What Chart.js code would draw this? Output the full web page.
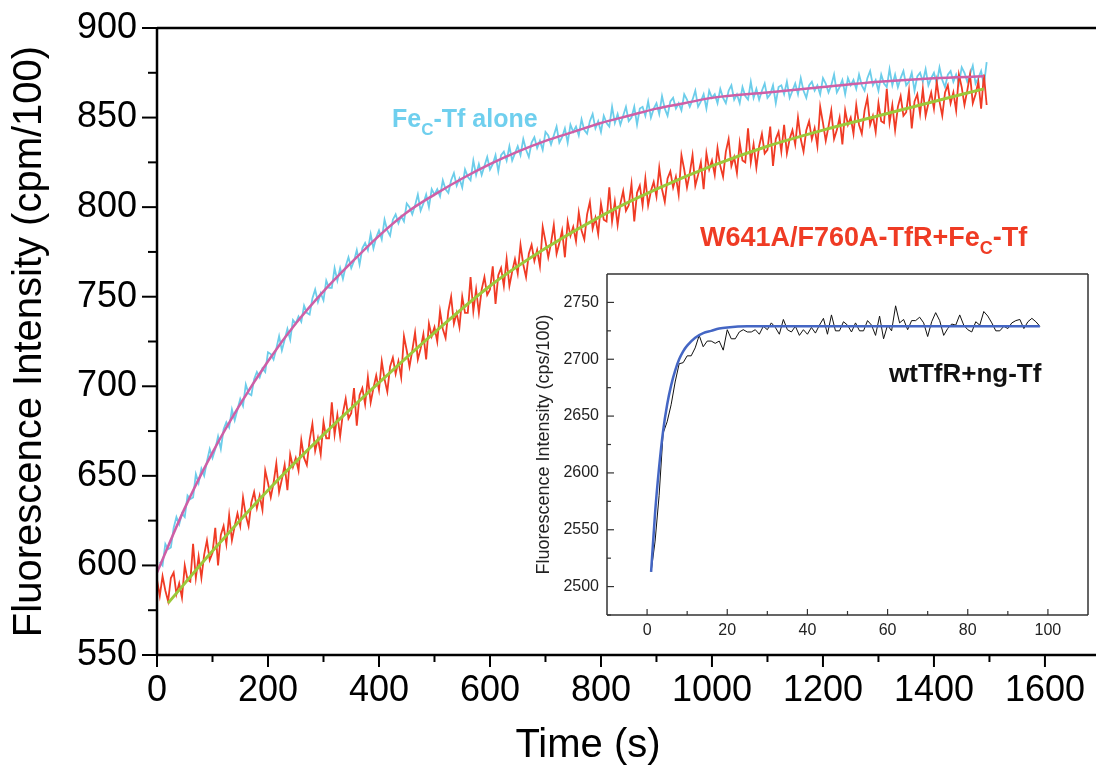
<!DOCTYPE html>
<html>
<head>
<meta charset="utf-8">
<script src="https://cdn.jsdelivr.net/npm/chart.js@4.4.0/dist/chart.umd.min.js"></script>
<style>
  body { margin: 0; background: #fff; }
  #wrap { position: relative; width: 1096px; height: 767px; }
  #grafico { position: absolute; left: 0; top: 0; }
  #inset { position: absolute; left: 520px; top: 265px; }
</style>
</head>
<body>
<div id="wrap">
  <canvas id="grafico" width="1096" height="767"></canvas>
  <canvas id="inset" width="576" height="380"></canvas>
</div>
<script>
// ---- DADOS ----

// FeC-Tf alone: uma leitura a cada 5 s, de t = 5 s a 1495 s
const tempoPasso = 5;
const feTfInicio = 5;
const feTfAlone = [
  602, 600, 612, 609, 610, 621, 627, 623, 629, 627,
  639, 637, 638, 651, 646, 654, 650, 658, 665, 660,
  665, 672, 665, 676, 680, 677, 687, 681, 687, 693,
  689, 701, 696, 695, 704, 708, 705, 710, 708, 719,
  718, 715, 721, 728, 720, 726, 732, 726, 737, 735,
  739, 736, 745, 741, 740, 749, 754, 747, 752, 748,
  759, 755, 755, 766, 759, 766, 760, 767, 772, 766,
  770, 776, 768, 777, 780, 776, 785, 777, 783, 787,
  782, 793, 787, 784, 793, 796, 791, 795, 792, 802,
  800, 796, 801, 807, 798, 802, 807, 800, 810, 807,
  810, 806, 815, 810, 808, 815, 819, 812, 816, 811,
  821, 817, 815, 826, 818, 824, 818, 823, 828, 821,
  824, 829, 820, 829, 831, 826, 834, 826, 830, 834,
  829, 838, 832, 828, 836, 839, 833, 837, 832, 842,
  840, 835, 840, 845, 836, 839, 844, 836, 846, 842,
  845, 840, 849, 843, 841, 848, 852, 844, 848, 842,
  851, 847, 845, 856, 847, 852, 846, 851, 856, 848,
  850, 856, 846, 855, 856, 851, 859, 850, 855, 858,
  852, 862, 855, 851, 859, 861, 855, 858, 854, 863,
  860, 856, 860, 865, 856, 859, 863, 855, 865, 861,
  863, 858, 866, 861, 858, 865, 868, 860, 863, 858,
  867, 862, 860, 870, 861, 866, 860, 865, 869, 861,
  863, 868, 858, 867, 868, 863, 870, 861, 865, 869,
  863, 872, 865, 861, 868, 870, 865, 868, 863, 872,
  869, 864, 868, 874, 864, 867, 871, 863, 872, 868,
  871, 866, 874, 868, 865, 872, 876, 868, 871, 865,
  874, 869, 867, 877, 868, 874, 867, 872, 876, 868,
  870, 875, 865, 873, 875, 870, 877, 868, 872, 875,
  869, 878, 871, 867, 874, 876, 870, 874, 869, 878,
  875, 870, 874, 879, 869, 872, 876, 868, 881
];
// curva ajustada (rosa)
const feTfAjusteTempo = [0, 50, 100, 150, 200, 250, 300, 350, 400, 450, 500, 550, 600, 650, 700, 750, 800, 850, 900, 950, 1000, 1100, 1200, 1300, 1400, 1490];
const feTfAjuste = [596, 632, 663, 690, 714, 735, 753, 769, 784, 797, 807, 816, 824, 831, 837, 842, 847, 851, 855, 858, 861, 864, 867, 870, 872, 873];

// W641A/F760A-TfR+FeC-Tf: uma leitura a cada 5 s, de t = 0 a 1495 s
const mutanteInicio = 0;
const mutante = [
  592, 583, 594, 586, 580, 593, 596, 584, 590, 582,
  600, 592, 591, 612, 593, 605, 593, 606, 614, 603,
  607, 621, 600, 617, 622, 612, 628, 614, 622, 629,
  622, 638, 628, 622, 635, 641, 632, 639, 631, 653,
  646, 638, 646, 657, 641, 648, 656, 642, 662, 655,
  660, 653, 670, 660, 656, 670, 679, 664, 671, 662,
  680, 671, 671, 691, 673, 684, 672, 685, 693, 682,
  685, 699, 678, 695, 699, 690, 705, 691, 699, 706,
  698, 714, 704, 697, 711, 716, 707, 714, 705, 728,
  720, 711, 720, 730, 715, 721, 729, 715, 735, 728,
  733, 725, 742, 732, 727, 742, 750, 735, 741, 733,
  750, 741, 741, 761, 742, 754, 741, 754, 761, 751,
  754, 767, 746, 762, 766, 756, 771, 756, 764, 771,
  763, 779, 768, 761, 774, 779, 770, 776, 767, 789,
  781, 772, 780, 790, 774, 780, 787, 772, 792, 784,
  789, 781, 797, 787, 782, 796, 803, 788, 794, 785,
  802, 793, 792, 811, 792, 803, 790, 802, 809, 798,
  801, 813, 792, 808, 812, 801, 816, 801, 809, 814,
  806, 822, 810, 803, 816, 820, 811, 817, 807, 829,
  821, 811, 819, 829, 812, 818, 825, 810, 830, 821,
  826, 818, 833, 823, 817, 831, 838, 823, 828, 819,
  836, 826, 825, 844, 825, 835, 822, 834, 841, 830,
  832, 845, 823, 838, 842, 831, 846, 830, 838, 843,
  835, 850, 838, 831, 843, 848, 838, 844, 834, 856,
  847, 837, 845, 854, 838, 843, 850, 835, 854, 846,
  850, 841, 857, 846, 841, 854, 861, 846, 851, 842,
  858, 848, 847, 866, 847, 857, 843, 856, 862, 851,
  853, 865, 844, 859, 863, 852, 866, 851, 858, 864,
  855, 870, 859, 851, 864, 868, 858, 864, 854, 874,
  867, 857, 865, 874, 858, 863, 870, 855, 874, 857
];
// curva ajustada (verde)
const mutanteAjusteTempo = [20, 100, 200, 300, 400, 500, 600, 700, 800, 900, 1000, 1100, 1200, 1300, 1400, 1490];
const mutanteAjuste = [579, 608, 642, 673, 702, 730, 756, 777, 795, 810, 823, 834, 843, 851, 859, 866];

// inset wtTfR+ng-Tf: uma leitura por segundo, t = 1..98
const wtNg = [
  2513, 2540, 2580, 2635, 2645, 2660, 2680, 2696, 2697, 2703,
  2703, 2710, 2721, 2711, 2716, 2716, 2714, 2716, 2708, 2726,
  2718, 2718, 2724, 2726, 2724, 2724, 2726, 2722, 2729, 2726,
  2732, 2728, 2722, 2735, 2726, 2724, 2729, 2721, 2726, 2722,
  2728, 2723, 2730, 2736, 2722, 2739, 2725, 2725, 2733, 2730,
  2724, 2732, 2725, 2725, 2734, 2730, 2721, 2738, 2718, 2730,
  2725, 2747, 2732, 2735, 2726, 2734, 2734, 2737, 2732, 2720,
  2733, 2741, 2734, 2721, 2727, 2731, 2730, 2739, 2730, 2726,
  2724, 2733, 2730, 2742, 2738, 2732, 2725, 2725, 2729, 2727,
  2732, 2734, 2735, 2727, 2733, 2736, 2733, 2729
];
const wtNgAjusteTempo = [1, 2, 3, 4, 5, 6, 7, 8, 9, 10, 12, 14, 16, 18, 20, 25, 30, 98];
const wtNgAjuste = [2513, 2565, 2605, 2637, 2660, 2677, 2690, 2700, 2707, 2712, 2719, 2723, 2725, 2727, 2728, 2729, 2729, 2729];

// ticks
const xTicksMain = [0, 200, 400, 600, 800, 1000, 1200, 1400, 1600];
const xMinorMain = [100, 300, 500, 700, 900, 1100, 1300, 1500];
const yTicksMain = [550, 600, 650, 700, 750, 800, 850, 900];
const yMinorMain = [575, 625, 675, 725, 775, 825, 875];
const xTicksInset = [0, 20, 40, 60, 80, 100];
const xMinorInset = [10, 30, 50, 70, 90];
const yTicksInset = [2500, 2550, 2600, 2650, 2700, 2750];
const yMinorInset = [2475, 2525, 2575, 2625, 2675, 2725];

// ---- desenho ----
const fonte = "'Liberation Sans', Arial, sans-serif";

function pontos(tempos, valores) {
  return valores.map((v, i) => ({ x: tempos[i], y: v }));
}
function pontosPasso(inicio, passo, valores) {
  return valores.map((v, i) => ({ x: inicio + i * passo, y: v }));
}

function desenharTexto(ctx, t) {
  let x = t.x;
  ctx.fillStyle = t.cor;
  ctx.textBaseline = 'alphabetic';
  ctx.textAlign = 'left';
  const peso = t.normal ? '' : 'bold ';
  if (t.centro) {
    ctx.font = peso + t.tam + 'px ' + fonte;
    x -= ctx.measureText(t.partes.map((p) => p[0]).join('')).width / 2;
  }
  t.partes.forEach(([texto, sub]) => {
    ctx.font = peso + (sub ? t.tamSub : t.tam) + 'px ' + fonte;
    ctx.fillText(texto, x, t.y + (sub ? t.desce : 0));
    x += ctx.measureText(texto).width;
  });
}

// sem sobra de espaço para os rótulos das pontas
function semSobra(s) {
  s.paddingTop = 0;
  s.paddingBottom = 0;
  s.paddingLeft = 0;
  s.paddingRight = 0;
}

// ticks e moldura desenhados com as escalas do Chart.js
const marcas = {
  id: 'marcas',
  beforeDraw(chart, args, o) {
    if (!o.fundo) return;
    const a = chart.chartArea;
    chart.ctx.save();
    chart.ctx.fillStyle = o.fundo;
    chart.ctx.fillRect(a.left, a.top, a.right - a.left, a.bottom - a.top);
    chart.ctx.restore();
  },
  afterDraw(chart, args, o) {
    const { ctx, chartArea: a, scales } = chart;
    ctx.save();
    ctx.strokeStyle = o.cor;
    ctx.lineWidth = o.larguraTick;
    const marca = (eixo, valores, comp) => {
      const s = scales[eixo];
      valores.forEach((v) => {
        const p = s.getPixelForValue(v);
        ctx.beginPath();
        if (eixo === 'x') {
          ctx.moveTo(p, a.bottom);
          ctx.lineTo(p, a.bottom + comp);
        } else {
          ctx.moveTo(a.left, p);
          ctx.lineTo(a.left - comp, p);
        }
        ctx.stroke();
      });
    };
    marca('x', o.x.maiores, o.x.comp);
    marca('x', o.x.menores, o.x.compMenor);
    marca('y', o.y.maiores, o.y.comp);
    marca('y', o.y.menores, o.y.compMenor);

    ctx.lineWidth = o.larguraBorda;
    ctx.beginPath();
    if (o.lados.includes('left')) { ctx.moveTo(a.left, a.top); ctx.lineTo(a.left, a.bottom); }
    if (o.lados.includes('bottom')) { ctx.moveTo(a.left, a.bottom); ctx.lineTo(a.right, a.bottom); }
    if (o.lados.includes('top')) { ctx.moveTo(a.left, a.top); ctx.lineTo(a.right, a.top); }
    if (o.lados.includes('right')) { ctx.moveTo(a.right, a.top); ctx.lineTo(a.right, a.bottom); }
    ctx.stroke();

    (o.textos || []).forEach((t) => desenharTexto(ctx, t));
    ctx.restore();
  }
};

// ... GRAFICO PRINCIPAL
const ctx = document.getElementById('grafico').getContext('2d');
new Chart(ctx, {
  type: 'line',
  data: {
    datasets: [
      {
        label: 'ajuste FeC-Tf',
        data: pontos(feTfAjusteTempo, feTfAjuste),
        borderColor: '#cf5fa6',
        borderWidth: 2.5,
        cubicInterpolationMode: 'monotone',
        order: 0,
      },
      {
        label: 'ajuste mutante',
        data: pontos(mutanteAjusteTempo, mutanteAjuste),
        borderColor: '#9cc93a',
        borderWidth: 3,
        cubicInterpolationMode: 'monotone',
        order: 1,
      },
      {
        label: 'W641A/F760A-TfR+FeC-Tf',
        data: pontosPasso(mutanteInicio, tempoPasso, mutante),
        borderColor: '#f03b25',
        borderWidth: 1.8,
        tension: 0,
        order: 2,
      },
      {
        label: 'FeC-Tf alone',
        data: pontosPasso(feTfInicio, tempoPasso, feTfAlone),
        borderColor: '#6ccdea',
        borderWidth: 1.8,
        tension: 0,
        order: 3,
      },
    ],
  },
  options: {
    responsive: false,
    animation: false,
    events: [],
    layout: { padding: { top: 28, right: 0, left: 0, bottom: 0 } },
    elements: { point: { radius: 0 } },
    plugins: {
      legend: { display: false },
      tooltip: { enabled: false },
      marcas: {
        cor: '#000',
        larguraTick: 2,
        larguraBorda: 2.5,
        lados: ['left', 'bottom', 'top'],
        x: { maiores: xTicksMain, menores: xMinorMain, comp: 12, compMenor: 7 },
        y: { maiores: yTicksMain, menores: yMinorMain, comp: 15, compMenor: 9 },
        textos: [
          { x: 392, y: 127, cor: '#6fcfee', tam: 25, tamSub: 17, desce: 8,
            partes: [['Fe', 0], ['C', 1], ['-Tf alone', 0]] },
          { x: 700, y: 246, cor: '#ef3b24', tam: 27, tamSub: 18, desce: 8,
            partes: [['W641A/F760A-TfR+Fe', 0], ['C', 1], ['-Tf', 0]] },
          { x: 588, y: 757, cor: '#000', tam: 40, tamSub: 40, desce: 0, normal: true, centro: true,
            partes: [['Time (s)', 0]] },
        ],
      },
    },
    scales: {
      x: {
        type: 'linear',
        min: 0,
        max: 1692,
        afterBuildTicks: (s) => { s.ticks = xTicksMain.map((v) => ({ value: v })); },
        afterFit: (s) => { s.height = 112; semSobra(s); },
        grid: { display: false, drawTicks: false },
        border: { display: false },
        ticks: { autoSkip: false, maxRotation: 0, padding: 14, color: '#000',
          font: { family: fonte, size: 36 }, callback: (v) => String(v) },
      },
      y: {
        type: 'linear',
        min: 550,
        max: 900,
        afterBuildTicks: (s) => { s.ticks = yTicksMain.map((v) => ({ value: v })); },
        afterFit: (s) => { s.width = 157; semSobra(s); },
        grid: { display: false, drawTicks: false },
        border: { display: false },
        ticks: { padding: 20, color: '#000', font: { family: fonte, size: 36 },
          callback: (v) => String(v) },
        title: { display: true, text: 'Fluorescence Intensity (cpm/100)', color: '#000',
          font: { family: fonte, size: 40 }, padding: { top: 6, bottom: 0 } },
      },
    },
  },
  plugins: [marcas],
});

// ... INSET
const ctx2 = document.getElementById('inset').getContext('2d');
new Chart(ctx2, {
  type: 'line',
  data: {
    datasets: [
      {
        label: 'ajuste',
        data: pontos(wtNgAjusteTempo, wtNgAjuste),
        borderColor: '#4466c4',
        borderWidth: 2.5,
        cubicInterpolationMode: 'monotone',
        order: 0,
      },
      {
        label: 'wtTfR+ng-Tf',
        data: pontosPasso(1, 1, wtNg),
        borderColor: '#111',
        borderWidth: 1,
        tension: 0,
        order: 1,
      },
    ],
  },
  options: {
    responsive: false,
    animation: false,
    events: [],
    layout: { padding: { top: 9, right: 8, left: 0, bottom: 0 } },
    elements: { point: { radius: 0 } },
    plugins: {
      legend: { display: false },
      tooltip: { enabled: false },
      marcas: {
        fundo: '#fff',
        cor: '#333',
        larguraTick: 1.2,
        larguraBorda: 1.5,
        lados: ['left', 'bottom', 'top', 'right'],
        x: { maiores: xTicksInset, menores: xMinorInset, comp: -6, compMenor: -4 },
        y: { maiores: yTicksInset, menores: yMinorInset, comp: -7, compMenor: -4 },
        textos: [
          { x: 369, y: 117, cor: '#111', tam: 26, tamSub: 26, desce: 0,
            partes: [['wtTfR+ng-Tf', 0]] },
        ],
      },
    },
    scales: {
      x: {
        type: 'linear',
        min: -10,
        max: 110,
        afterBuildTicks: (s) => { s.ticks = xTicksInset.map((v) => ({ value: v })); },
        afterFit: (s) => { s.height = 30; semSobra(s); },
        grid: { display: false, drawTicks: false },
        border: { display: false },
        ticks: { autoSkip: false, maxRotation: 0, padding: 6, color: '#222',
          font: { family: fonte, size: 16 }, callback: (v) => String(v) },
      },
      y: {
        type: 'linear',
        min: 2475,
        max: 2775,
        afterBuildTicks: (s) => { s.ticks = yTicksInset.map((v) => ({ value: v })); },
        afterFit: (s) => { s.width = 87; semSobra(s); },
        grid: { display: false, drawTicks: false },
        border: { display: false },
        ticks: { padding: 8, color: '#222', font: { family: fonte, size: 16 },
          callback: (v) => String(v) },
        title: { display: true, text: 'Fluorescence Intensity (cps/100)', color: '#222',
          font: { family: fonte, size: 18 }, padding: { top: 13, bottom: 0 } },
      },
    },
  },
  plugins: [marcas],
});
</script>
</body>
</html>
